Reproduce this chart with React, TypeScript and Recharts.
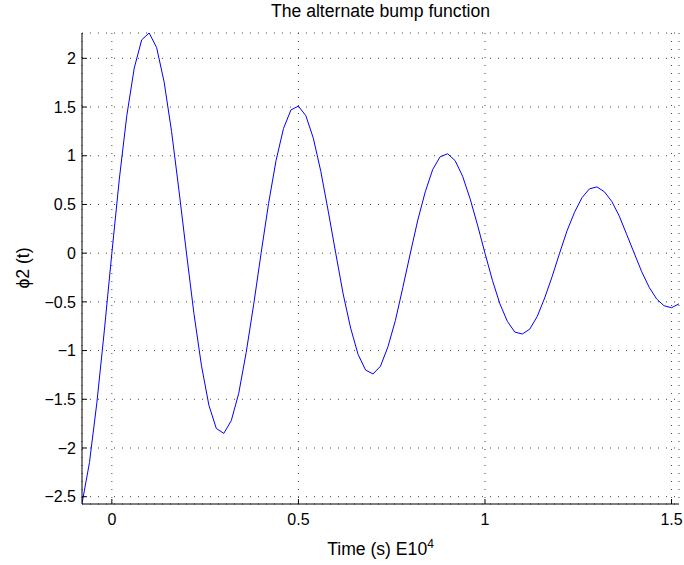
import { LineChart, Line, XAxis, YAxis, CartesianGrid } from "recharts"

// time in units of 1e4 s
const times = [
  -0.08, -0.06, -0.04, -0.02, 0, 0.02, 0.04, 0.06, 0.08, 0.1,
  0.12, 0.14, 0.16, 0.18, 0.2, 0.22, 0.24, 0.26, 0.28, 0.3,
  0.32, 0.34, 0.36, 0.38, 0.4, 0.42, 0.44, 0.46, 0.48, 0.5,
  0.52, 0.54, 0.56, 0.58, 0.6, 0.62, 0.64, 0.66, 0.68, 0.7,
  0.72, 0.74, 0.76, 0.78, 0.8, 0.82, 0.84, 0.86, 0.88, 0.9,
  0.92, 0.94, 0.96, 0.98, 1, 1.02, 1.04, 1.06, 1.08, 1.1,
  1.12, 1.14, 1.16, 1.18, 1.2, 1.22, 1.24, 1.26, 1.28, 1.3,
  1.32, 1.34, 1.36, 1.38, 1.4, 1.42, 1.44, 1.46, 1.48, 1.5,
  1.52,
]

const phi2 = [
  -2.57, -2.15, -1.53, -0.79, 0, 0.76, 1.41, 1.9, 2.19, 2.26,
  2.11, 1.76, 1.25, 0.64, 0, -0.62, -1.15, -1.56, -1.8, -1.85,
  -1.72, -1.44, -1.02, -0.53, 0, 0.51, 0.95, 1.28, 1.47, 1.51,
  1.41, 1.18, 0.84, 0.43, 0, -0.42, -0.77, -1.04, -1.2, -1.24,
  -1.16, -0.96, -0.69, -0.35, 0, 0.34, 0.63, 0.86, 0.99, 1.02,
  0.95, 0.79, 0.56, 0.29, 0, -0.28, -0.52, -0.7, -0.81, -0.83,
  -0.78, -0.65, -0.46, -0.24, 0, 0.23, 0.42, 0.57, 0.66, 0.68,
  0.63, 0.53, 0.38, 0.19, 0, -0.19, -0.35, -0.47, -0.54, -0.56,
  -0.52,
]

const xTicks = [0, 0.5, 1, 1.5]
const yTicks = [-2.5, -2, -1.5, -1, -0.5, 0, 0.5, 1, 1.5, 2]

const data = times.map((t, i) => ({ t, v: phi2[i] }))

const font = '"Liberation Sans", Arial, Helvetica, sans-serif'
const fmt = (v: number) => String(v).replace("-", "\u2212")

export default function App() {
  const tickStyle = { fontSize: 16, fill: "#000", fontFamily: font }
  return (
    <div style={{ position: "absolute", left: 0, top: 0, width: 684, height: 565, background: "#fff", fontFamily: font }}>
      <LineChart width={684} height={565} data={data} margin={{ top: 33, right: 5, bottom: 0, left: 0 }}>
        <CartesianGrid stroke="#444" strokeDasharray="1 7" />
        <XAxis
          dataKey="t"
          type="number"
          domain={[-0.08, 1.52]}
          ticks={xTicks}
          tickFormatter={fmt}
          height={61}
          tickSize={-5}
          tickMargin={15}
          tick={tickStyle}
          stroke="#000"
          allowDataOverflow
        />
        <XAxis
          xAxisId="top"
          orientation="top"
          dataKey="t"
          type="number"
          domain={[-0.08, 1.52]}
          ticks={xTicks}
          height={0}
          tickSize={-5}
          tick={false}
          stroke="#000"
          allowDataOverflow
        />
        <YAxis
          type="number"
          domain={[-2.575, 2.26]}
          ticks={yTicks}
          tickFormatter={fmt}
          width={82}
          tickSize={-5}
          tickMargin={11}
          tick={tickStyle}
          stroke="#000"
          allowDataOverflow
        />
        <YAxis
          yAxisId="right"
          orientation="right"
          type="number"
          domain={[-2.575, 2.26]}
          ticks={yTicks}
          width={0}
          tickSize={-5}
          tick={false}
          stroke="#000"
          allowDataOverflow
        />
        <Line dataKey="v" type="linear" stroke="#0000ff" strokeWidth={1} dot={false} isAnimationActive={false} />
      </LineChart>
      <div style={{ position: "absolute", left: 82, width: 597, top: 1, textAlign: "center", fontSize: 17.6 }}>
        The alternate bump function
      </div>
      <div style={{ position: "absolute", left: 82, width: 597, top: 537, textAlign: "center", fontSize: 17.6 }}>
        Time (s) E10<sup style={{ fontSize: 12 }}>4</sup>
      </div>
      <div
        style={{
          position: "absolute",
          left: 23,
          top: 268,
          fontSize: 17.6,
          whiteSpace: "nowrap",
          transform: "translate(-50%, -50%) rotate(-90deg)",
        }}
      >
        ϕ2 (t)
      </div>
    </div>
  )
}
